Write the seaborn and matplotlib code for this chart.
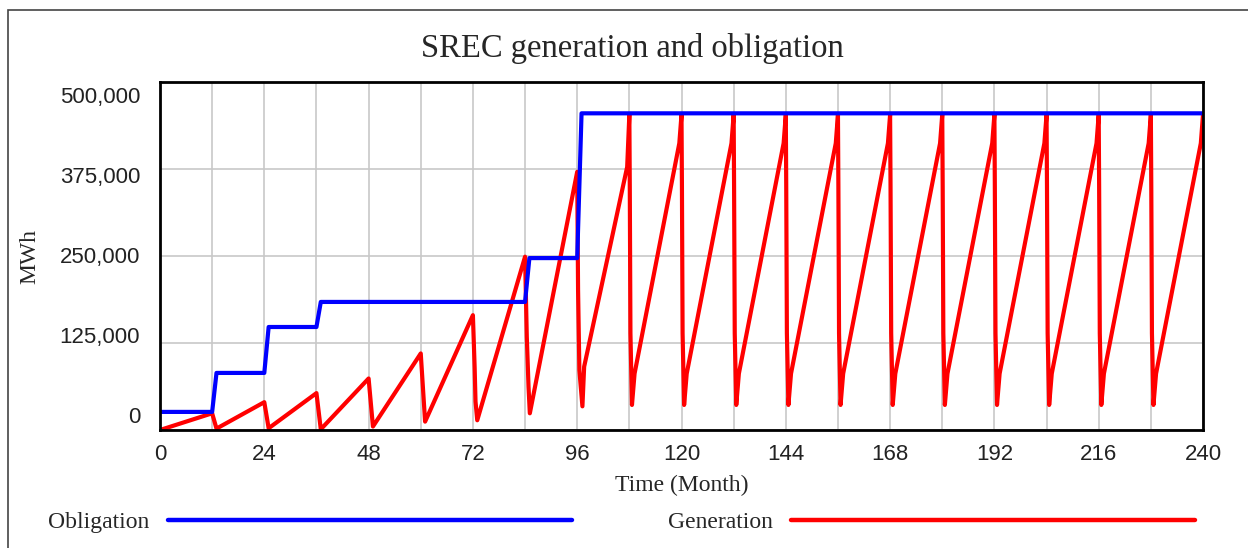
import pandas as pd
import seaborn as sns
import matplotlib.pyplot as plt
from matplotlib.lines import Line2D
from matplotlib.patches import Rectangle
from matplotlib.ticker import MultipleLocator

# Obligation (step curve), vertices
obl_month = [0, 12, 13, 24, 25, 36, 37, 84, 85, 96, 97, 240]
obl_mwh = [26000, 26000, 82000, 82000, 148000, 148000, 184000, 184000,
           247000, 247000, 455000, 455000]

# Generation (sawtooth), vertices
gen_month = [0, 12, 13, 24, 25, 36, 37, 48, 49, 60, 61,
             72, 72.4, 72.6, 73,
             84, 84.4, 84.8, 85.1,
             96, 96.2, 96.5, 97.2, 97.6, 107.5,
             108, 108.1, 108.25, 108.6, 109.2, 119.5,
             120, 120.1, 120.25, 120.6, 121.2, 131.5,
             132, 132.1, 132.25, 132.6, 133.2, 143.5,
             144, 144.1, 144.25, 144.6, 145.2, 155.5,
             156, 156.1, 156.25, 156.6, 157.2, 167.5,
             168, 168.1, 168.25, 168.6, 169.2, 179.5,
             180, 180.1, 180.25, 180.6, 181.2, 191.5,
             192, 192.1, 192.25, 192.6, 193.2, 203.5,
             204, 204.1, 204.25, 204.6, 205.2, 215.5,
             216, 216.1, 216.25, 216.6, 217.2, 227.5,
             228, 228.1, 228.25, 228.6, 229.2, 239.5,
             240]
gen_mwh = [0, 24000, 2000, 40000, 2500, 53000, 1000, 74000, 5000, 110000, 12000,
           165000, 90000, 41000, 14000,
           249000, 134000, 62000, 24000,
           371000, 201000, 86000, 34000, 91000, 378000,
           453000, 350000, 139000, 36000, 81000, 412000,
           453000, 350000, 139000, 36000, 81000, 412000,
           453000, 350000, 139000, 36000, 81000, 412000,
           453000, 350000, 139000, 36000, 81000, 412000,
           453000, 350000, 139000, 36000, 81000, 412000,
           453000, 350000, 139000, 36000, 81000, 412000,
           453000, 350000, 139000, 36000, 81000, 412000,
           453000, 350000, 139000, 36000, 81000, 412000,
           453000, 350000, 139000, 36000, 81000, 412000,
           453000, 350000, 139000, 36000, 81000, 412000,
           453000, 350000, 139000, 36000, 81000, 412000,
           453000]

ytick_values = [0, 125000, 250000, 375000, 500000]
ytick_labels = ['0', '125,000', '250,000', '375,000', '500,000']

df_obl = pd.DataFrame({'Month': obl_month, 'MWh': obl_mwh})
df_gen = pd.DataFrame({'Month': gen_month, 'MWh': gen_mwh})

sns.set_style('white')
plt.rcParams['font.family'] = ['Liberation Serif', 'DejaVu Serif']
serif = 'Liberation Serif'
sans = 'Liberation Sans'

fig = plt.figure(figsize=(12.48, 5.48), dpi=100)
ax = fig.add_axes([160 / 1248, 1 - 430 / 548, 1043 / 1248, 348 / 548])

sns.lineplot(data=df_gen, x='Month', y='MWh', color='#ff0000', lw=3,
             estimator=None, sort=False, ax=ax)
sns.lineplot(data=df_obl, x='Month', y='MWh', color='#0000ff', lw=3,
             estimator=None, sort=False, ax=ax)

ax.set_xlim(0, 240)
ax.set_ylim(0, 500000)
ax.xaxis.set_major_locator(MultipleLocator(24))
ax.xaxis.set_minor_locator(MultipleLocator(12))
ax.set_yticks(ytick_values)
ax.grid(True, which='both', color='#c8c8c8', lw=1.2)
ax.set_axisbelow(True)
ax.tick_params(axis='x', which='both', length=2, width=1, color='black',
               pad=8, labelsize=16)
ax.tick_params(axis='y', length=0, labelleft=False)
for lab in ax.get_xticklabels():
    lab.set_family(sans)
    lab.set_color('#222222')

# Vensim-style y labels: evenly spread between the axis ends
for i, lab in enumerate(ytick_labels):
    ax.text(-0.019, 0.037 + i * 0.2293, lab, transform=ax.transAxes,
            ha='right', va='center', fontsize=16, family=sans, color='#222222')

for sp in ax.spines.values():
    sp.set_color('black')
    sp.set_linewidth(2)

ax.set_xlabel('Time (Month)', fontsize=17, family=serif, va='center')
ax.xaxis.set_label_coords(0.5, -(485 - 430) / 348)
ax.set_ylabel('MWh', fontsize=17, family=serif, va='center', ha='center')
ax.yaxis.set_label_coords(-(160 - 30) / 1043, 0.5)

fig.text(632 / 1248, 1 - 48 / 548, 'SREC generation and obligation',
         ha='center', va='center', fontsize=23.5, family=serif)

handles = [Line2D([], [], color='#0000ff', lw=3.2),
           Line2D([], [], color='#ff0000', lw=3.2)]
fig.legend(handles, ['Obligation', 'Generation'], loc='center left',
           bbox_to_anchor=(48 / 1248, 1 - 522 / 548), ncol=2, frameon=False,
           markerfirst=False, handlelength=17.1, handletextpad=0.8,
           columnspacing=4.05, borderpad=0, borderaxespad=0,
           prop={'family': serif, 'size': 17})

# outer frame (only top and left edges visible)
fig.add_artist(Rectangle((8 / 1248, -0.5), 2, 0.5 + 1 - 10 / 548,
                         transform=fig.transFigure, fill=False,
                         edgecolor='#444444', lw=1.2))

fig.savefig('out.png', dpi=100)
